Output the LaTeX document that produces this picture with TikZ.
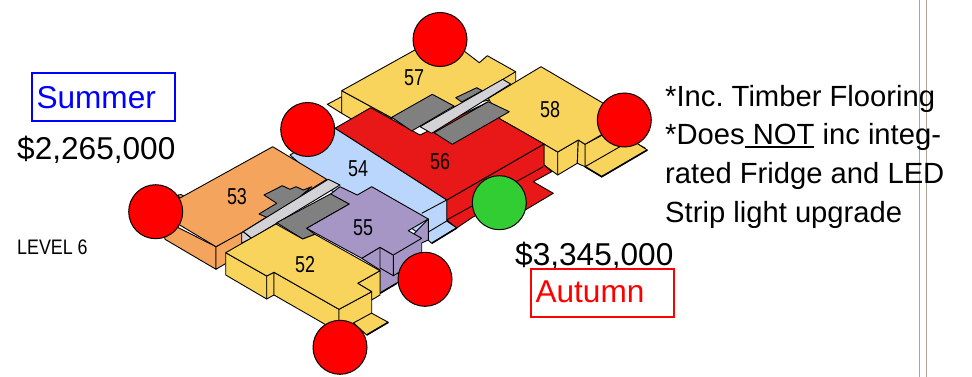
\documentclass[tikz,border=0pt]{standalone}
\usepackage{fontspec}
\usepackage{tikz}
\setmainfont{Liberation Sans}
\newfontfamily\narrowfont[FakeStretch=0.78]{Liberation Sans}
\newfontfamily\levelfont[FakeStretch=0.85]{Liberation Sans}
\newcommand{\heavyline}[1]{\setbox0=\hbox{#1}\rlap{\rule[-3.6pt]{\wd0}{2.2pt}}\box0\relax}
\definecolor{flatyellow}{HTML}{F8D45C}
\definecolor{flatorange}{HTML}{F4A45C}
\definecolor{flatblue}{HTML}{BBD6FC}
\definecolor{flatpurple}{HTML}{A596C6}
\definecolor{flatred}{HTML}{E81818}
\definecolor{flatgreen}{HTML}{32CD32}
\definecolor{corridor}{HTML}{D3D2D6}
\definecolor{divider}{HTML}{B0A498}

\begin{document}
\frenchspacing
\begin{tikzpicture}[x=1pt, y=-1pt,
                    flat/.style = {draw=black, line width=0.9pt, line join=round},
                    edge/.style = {draw=black, line width=0.9pt},
                    base/.style = {draw=black, line width=1.6pt},
                    flatno/.style = {font=\narrowfont\fontsize{23}{23}\selectfont, inner sep=0pt},
                    sold/.style = {shape=circle, draw=black, fill=red, line width=1pt, minimum size=54pt, inner sep=0pt},
                    free/.style = {sold, fill=flatgreen},
                    price/.style = {font=\fontsize{31.6}{31.6}\selectfont, inner sep=0pt, anchor=base west},
                    season/.style = {shape=rectangle, line width=2pt, text width=133pt, align=left, inner xsep=5pt, inner ysep=0pt, minimum height=48pt, font=\fontsize{31.6}{31.6}\selectfont}]

  \useasboundingbox (0,0) rectangle (972,377);

  % divider on the right
  \draw[divider, line width=1.3pt] (919.5,0) -- (919.5,377);
  \draw[divider, line width=1.3pt] (926.7,0) -- (926.7,377);

  % 57
  \path[flat, fill=flatyellow] (327.3,104.3) -- (341.7,96.7) -- (341.7,113.3) -- cycle;
  \path[flat, fill=flatyellow] (341.7,90.7) -- (341.7,113.3) -- (370,130) -- (392,118) -- cycle;
  \path[flat, fill=flatyellow] (341.7,90.7) -- (440,36) -- (465,51.7) -- (479.3,62.7) -- (487.3,55.7)
    -- (515.7,71.7) -- (515.7,84) -- (490,100) -- (392,118) -- cycle;
  \path[edge] (503,79.3) -- (515.7,71.7);

  % 58
  \path[flat, fill=flatyellow] (585,144.3) -- (612,130) -- (645,148) -- (585,166.7) -- cycle;
  \path[flat, fill=flatyellow] (585,166.7) -- (601.7,176.7) -- (647.3,150) -- (631.7,140) -- cycle;
  \path[base] (585,166.7) -- (601.7,176.7) -- (647.3,150);
  \path[flat, fill=flatyellow] (544,144) -- (544,165) -- (557.7,175) -- (557.7,152) -- cycle;
  \path[flat, fill=flatyellow] (557.7,152) -- (557.7,175) -- (577.3,163.3) -- (578.3,140) -- cycle;
  \path[flat, fill=flatyellow] (578.3,140) -- (577.3,163.3) -- (585,166.7) -- (585,144.3) -- cycle;
  \path[flat, fill=flatyellow] (488.3,98.3) -- (541,66.7) -- (625,116) -- (606.7,131.7) -- (585,144.3)
    -- (578.3,140) -- (557.7,152) -- (544,144) -- (500,119) -- cycle;

  % 56
  \path[flat, fill=flatred] (446.7,200) -- (544,144) -- (544,165) -- (551.7,171.7) -- (533.3,181.7)
    -- (553.3,193.3) -- (505,222) -- (500,205) -- (473,217) -- (456.7,228) -- (446.7,220) -- cycle;
  \path[edge] (446.7,220) -- (543.3,166.7);
  \path[flat, fill=flatred] (335,128.3) -- (370.7,107.7) -- (420,135) -- (488,102) -- (500,119)
    -- (544,144) -- (446.7,200) -- cycle;

  % 54
  \path[flat, fill=flatblue] (290,155) -- (335,128.3) -- (446.7,200) -- (446.7,221) -- (456.7,228)
    -- (431.7,243.3) -- (428,240) -- (400,220) -- (330,190) -- cycle;
  \path[edge] (421.7,213.3) -- (446.7,200);
  \path[edge] (428.3,232) -- (446.7,221);
  \path[base] (431.7,243.3) -- (456.7,228);

  % corridor and services by 57, 56, 58
  \path[flat, fill=gray] (391.7,117.3) -- (432.3,94.3) -- (454,106) -- (411.7,131) -- cycle;
  \path[flat, fill=gray] (455.7,97.7) -- (476.7,87.7) -- (482.3,90.7) -- (461.7,102) -- cycle;
  \path[flat, fill=gray] (434,132.7) -- (488.3,101.7) -- (509.3,111.7) -- (452.3,144.3) -- cycle;
  \path[flat, fill=corridor] (420,126.7) -- (502.7,79.3) -- (510.7,84) -- (431.7,133.3) -- cycle;

  % 53
  \path[flat, fill=flatorange] (178,195) -- (181,194.5) -- (185,197) -- (180,199) -- cycle;
  \path[flat, fill=flatorange] (163,220) -- (216,246.7) -- (216,269.3) -- (165,239.3) -- cycle;
  \path[flat, fill=flatorange] (216,246.7) -- (241.7,232) -- (241.7,254) -- (216,269.3) -- cycle;
  \path[flat, fill=flatorange] (272.7,146.7) -- (326.7,179.3) -- (243.3,231.7) -- (216,246.7)
    -- (163,215) -- (163,208) -- (180,198) -- cycle;

  % 55
  \path[flat, fill=flatpurple] (361.7,258.3) -- (380,247.3) -- (393.3,255) -- (428.3,219) -- (428.3,240)
    -- (421.7,243) -- (421.7,262) -- (396.7,283.3) -- (380,293.3) -- (380,270) -- cycle;
  \path[edge] (393.3,255) -- (393.3,275.7) -- (415,263);
  \path[edge] (380,247.3) -- (380,268) -- (393.3,275.7);
  \path[base] (380,293.3) -- (396.7,283.3);

  % services by 53, 55, 52
  \path[flat, fill=corridor] (241.7,232.7) -- (243.3,231.7) -- (251.7,238.3) -- (241.7,243) -- cycle;
  \path[flat, fill=gray] (264,195) -- (282.3,185.7) -- (290,189.3) -- (296,186.7) -- (303.3,190) -- (311.7,186.7)
    -- (300,196.7) -- (300,200) -- (266.7,217.3) -- (259,214) -- (276.7,203.3) -- cycle;
  \path[flat, fill=corridor] (243.3,231.7) -- (328.3,179.3) -- (340,185) -- (251.7,238.3) -- cycle;
  \path[flat, fill=gray] (276.7,222.7) -- (331.7,193.3) -- (349.3,204) -- (306.7,228.3) -- (315,234.3) -- (302.7,239) -- cycle;
  \path[flat, fill=flatpurple] (330.7,194) -- (340,186.7) -- (357.3,195) -- (371.7,186.7) -- (428.3,219)
    -- (408.3,230.7) -- (421.7,238.3) -- (393.3,255) -- (380,247.3) -- (361.7,258.3) -- (306.7,228.3) -- (349.3,204) -- cycle;

  % 52
  \path[flat, fill=flatyellow] (353.3,322.7) -- (370.7,312.7) -- (388.3,322.3) -- (366.7,335) -- cycle;
  \path[base] (366.7,335) -- (388.3,322.3);
  \path[flat, fill=flatyellow] (225.7,252.7) -- (225.7,275) -- (266.7,299) -- (266.7,276) -- cycle;
  \path[flat, fill=flatyellow] (266.7,276) -- (274,272.3) -- (274,295) -- (266.7,299) -- cycle;
  \path[flat, fill=flatyellow] (274,272.3) -- (339,309.3) -- (339,333) -- (323.3,323.3) -- (274,295) -- cycle;
  \path[flat, fill=flatyellow] (339,309.3) -- (371.7,291.7) -- (371.7,313) -- (353.3,323) -- (339,333) -- cycle;
  \path[flat, fill=flatyellow] (357.7,283.3) -- (380,270.7) -- (380,295) -- (371.7,300) -- (371.7,291.7) -- cycle;
  \path[flat, fill=flatyellow] (225.7,252.7) -- (276,224) -- (302.7,239) -- (315,234.3) -- (380,270.7)
    -- (357.7,283.3) -- (371.7,291.7) -- (339,309.3) -- (274,272.3) -- (266.7,276) -- cycle;

  \node[flatno] (flat57) at (414,78) {57};
  \node[flatno] (flat58) at (550,110) {58};
  \node[flatno] (flat56) at (440,162) {56};
  \node[flatno] (flat54) at (358,169) {54};
  \node[flatno] (flat53) at (237,197) {53};
  \node[flatno] (flat55) at (363,228) {55};
  \node[flatno] (flat52) at (305,265) {52};

  \node[sold] (sold57) at (440,39.5) {};
  \node[sold] (sold58) at (624.3,120) {};
  \node[sold] (sold54) at (307.7,129.5) {};
  \node[sold] (sold53) at (155.7,211.7) {};
  \node[sold] (sold55) at (425,279.3) {};
  \node[sold] (sold52) at (340,347.3) {};
  \node[free] (free56) at (499.3,202.7) {};

  \node[season, draw=blue, text=blue] (summer) at (103,97.5) {\raisebox{1pt}{Summer}};
  \node[price] (low) at (17,160) {\$2,265,000};
  \node[font=\levelfont\fontsize{21}{21}\selectfont, inner sep=0pt, anchor=west] (level) at (17,247) {LEVEL 6};
  \node[price] (high) at (515,265) {\$3,345,000};
  \node[season, draw=red, text=red] (autumn) at (602,292.5) {\raisebox{1pt}{Autumn}};

  \node[anchor=base west, inner sep=0pt, align=left, font=\fontsize{29.2}{38.6}\selectfont] (notes) at (665,222)
    {*Inc. Timber Flooring\\*Does\heavyline{ NOT} inc integ-\\rated Fridge and LED\\Strip light upgrade};
\end{tikzpicture}
\end{document}
